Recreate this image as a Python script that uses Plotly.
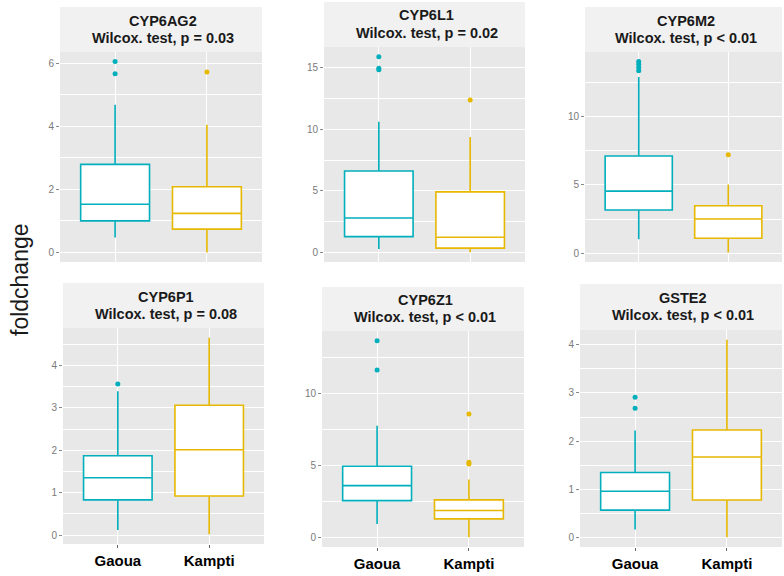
import plotly.graph_objects as go

# ---------------- data ----------------
genes = ["CYP6AG2", "CYP6L1", "CYP6M2", "CYP6P1", "CYP6Z1", "GSTE2"]
pvals = ["p = 0.03", "p = 0.02", "p < 0.01", "p = 0.08", "p < 0.01", "p < 0.01"]
sites = ["Gaoua", "Kampti"]

gaoua_q1 = [1.00, 1.31, 3.16, 0.83, 2.54, 0.57]
gaoua_med = [1.53, 2.82, 4.54, 1.35, 3.58, 0.96]
gaoua_q3 = [2.79, 6.62, 7.11, 1.87, 4.92, 1.35]
gaoua_lo = [0.47, 0.32, 1.02, 0.12, 0.92, 0.17]
gaoua_hi = [4.68, 10.59, 12.90, 3.39, 7.74, 2.22]
gaoua_out = [[6.05, 5.66], [15.85, 14.93, 14.80], [14.03, 13.83, 13.60, 13.35],
             [3.56], [13.63, 11.60], [2.91, 2.68]]

kampti_q1 = [0.74, 0.38, 1.09, 0.92, 1.27, 0.78]
kampti_med = [1.24, 1.26, 2.50, 2.01, 1.85, 1.67]
kampti_q3 = [2.08, 4.93, 3.47, 3.06, 2.59, 2.23]
kampti_lo = [0.00, 0.05, 0.05, 0.02, 0.00, 0.01]
kampti_hi = [4.05, 9.36, 5.02, 4.65, 4.00, 4.10]
kampti_out = [[5.72], [12.36], [7.20], [], [8.55, 5.20, 5.08], []]

y_dtick = [2, 5, 5, 1, 5, 1]

# ---------------- layout geometry (pixels) ----------------
W, H = 784, 576
# plot area boxes: (x0, x1, y0_top, y1_bottom), strip top
panels = [
    (60, 262, 52, 262, 7),
    (324, 525, 47, 262, 2),
    (585, 782, 52, 262, 7),
    (63, 264, 328, 544, 283),
    (322, 524, 331, 547, 287),
    (580, 782, 330, 547, 284),
]
colors = {"Gaoua": "#00AFBB", "Kampti": "#E7B800"}


def fx(x):
    return x / W


def fy(y):
    return 1 - y / H


fig = go.Figure()
shapes = []
annotations = []

for i, g in enumerate(genes):
    n = i + 1
    xa = "x" if n == 1 else f"x{n}"
    ya = "y" if n == 1 else f"y{n}"
    stats = {
        "Gaoua": (gaoua_q1[i], gaoua_med[i], gaoua_q3[i], gaoua_lo[i], gaoua_hi[i], gaoua_out[i]),
        "Kampti": (kampti_q1[i], kampti_med[i], kampti_q3[i], kampti_lo[i], kampti_hi[i], kampti_out[i]),
    }
    allvals = []
    for s in sites:
        q1, md, q3, lo, hi, out = stats[s]
        allvals += [lo, hi] + list(out)
        fig.add_trace(go.Box(
            x=[s], q1=[q1], median=[md], q3=[q3], lowerfence=[lo], upperfence=[hi],
            width=0.75, whiskerwidth=0, fillcolor="white",
            line=dict(color=colors[s], width=1.6),
            xaxis=xa, yaxis=ya, showlegend=False, hoverinfo="skip",
        ))
        if out:
            fig.add_trace(go.Scatter(
                x=[s] * len(out), y=out, mode="markers",
                marker=dict(color=colors[s], size=5),
                xaxis=xa, yaxis=ya, showlegend=False, hoverinfo="skip",
            ))
    vmin, vmax = min(allvals), max(allvals)
    pad = (vmax - vmin) * 0.05
    x0, x1, yt, yb, st = panels[i]
    bottom_row = i >= 3
    fig.update_layout(**{
        ("xaxis" if n == 1 else f"xaxis{n}"): dict(
            domain=[fx(x0), fx(x1)], anchor=ya, type="category",
            categoryorder="array", categoryarray=sites, range=[-0.6, 1.6],
            showgrid=True, gridcolor="white", gridwidth=1.2, zeroline=False,
            showline=False, showticklabels=bottom_row,
            ticks="outside" if bottom_row else "", ticklen=3, tickcolor="#666666",
            tickfont=dict(family="Liberation Sans, Arial", size=15, color="black", weight="bold"),
        ),
        ("yaxis" if n == 1 else f"yaxis{n}"): dict(
            domain=[fy(yb), fy(yt)], anchor=xa, range=[vmin - pad, vmax + pad],
            dtick=y_dtick[i], tick0=0, showgrid=True, gridcolor="white", gridwidth=1.2,
            minor=dict(showgrid=True, gridcolor="white", gridwidth=0.6, dtick=y_dtick[i] / 2),
            zeroline=False, showline=False, ticks="outside", ticklen=3, tickcolor="#888888",
            tickfont=dict(family="Liberation Sans, Arial", size=10, color="#7a7a7a"),
        ),
    })
    # panel background
    shapes.append(dict(type="rect", xref="paper", yref="paper", layer="below",
                       x0=fx(x0), x1=fx(x1), y0=fy(yb), y1=fy(yt),
                       fillcolor="#E8E8E8", line=dict(width=0)))
    # strip
    shapes.append(dict(type="rect", xref="paper", yref="paper", layer="below",
                       x0=fx(x0), x1=fx(x1), y0=fy(yt), y1=fy(st),
                       fillcolor="#F1F1F1", line=dict(width=0)))
    cx = fx((x0 + x1) / 2 + 2)
    annotations.append(dict(x=cx, y=fy(st + (yt - st) * 0.30), xref="paper", yref="paper",
                            text=f"<b>{g}</b>", showarrow=False, xanchor="center", yanchor="middle",
                            font=dict(family="Liberation Sans, Arial", size=14.5, color="#1a1a1a")))
    annotations.append(dict(x=cx, y=fy(st + (yt - st) * 0.68), xref="paper", yref="paper",
                            text=f"<b>Wilcox. test, {pvals[i]}</b>", showarrow=False,
                            xanchor="center", yanchor="middle",
                            font=dict(family="Liberation Sans, Arial", size=14.5, color="#1a1a1a")))

annotations.append(dict(x=fx(20), y=fy(280), xref="paper", yref="paper", text="foldchange",
                        textangle=-90, showarrow=False, xanchor="center", yanchor="middle",
                        font=dict(family="Liberation Sans, Arial", size=23, color="#1a1a1a")))

fig.update_layout(
    width=W, height=H, margin=dict(l=0, r=0, t=0, b=0),
    paper_bgcolor="white", plot_bgcolor="rgba(0,0,0,0)",
    boxmode="overlay", shapes=shapes, annotations=annotations,
)

fig.write_html("out.html")
